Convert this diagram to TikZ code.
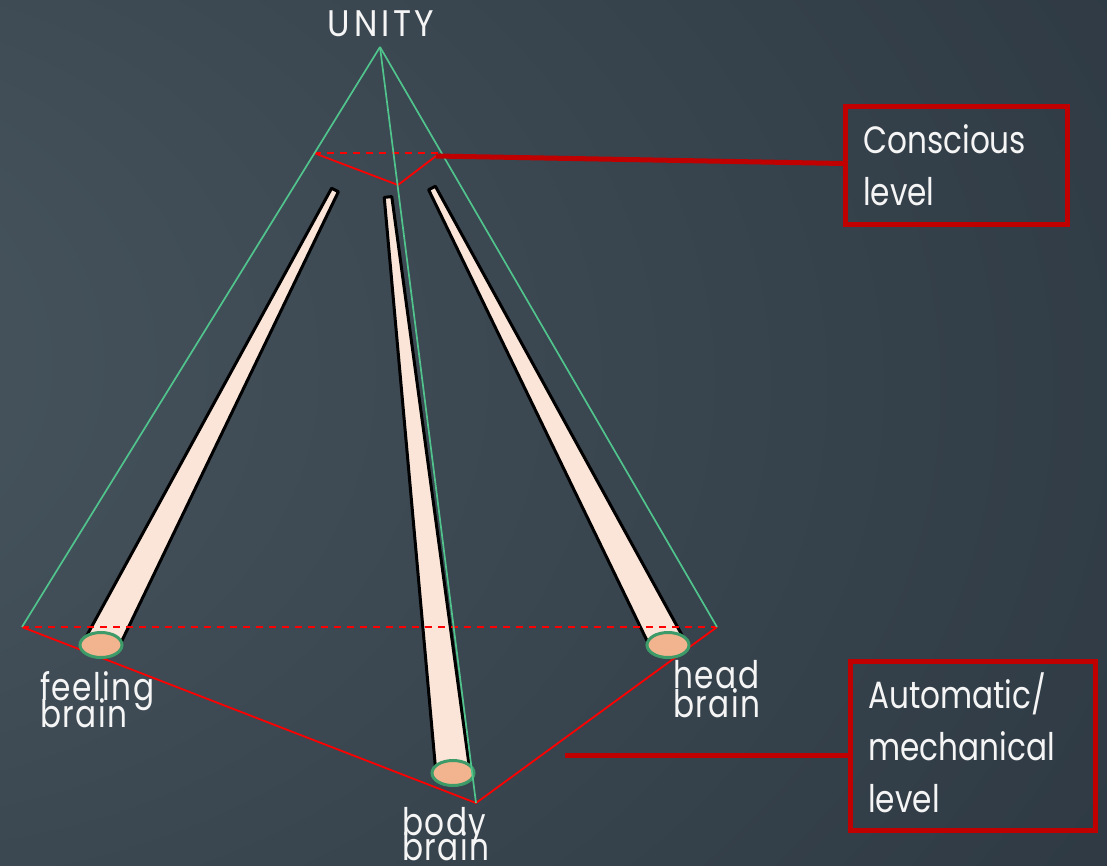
\documentclass[tikz,border=0pt]{standalone}
\usepackage{fontspec}
\setmainfont{Poppins}[FakeStretch=0.82]
\newfontfamily\lblfont{Poppins}[FakeStretch=0.82, LetterSpace=4]
\newfontfamily\unityfont{Poppins}[FakeStretch=0.9, LetterSpace=10]
\usetikzlibrary{calc,shapes.geometric}
\definecolor{bgL}{RGB}{76,90,100}
\definecolor{bgM}{RGB}{52,64,74}
\definecolor{bgR}{RGB}{30,38,47}
\definecolor{greenl}{RGB}{80,196,140}
\definecolor{redl}{RGB}{255,0,0}
\definecolor{darkred}{RGB}{192,0,0}
\definecolor{tubefill}{RGB}{251,229,216}
\definecolor{endfill}{RGB}{242,180,142}
\definecolor{endline}{RGB}{60,155,105}
\definecolor{txt}{RGB}{245,245,245}
\pgfdeclareradialshading{bgshade}{\pgfpoint{-45bp}{5bp}}{color(0bp)=(bgL); color(40bp)=(bgM); color(85bp)=(bgR)}
\tikzset{
  guide/.style={draw=greenl, line width=1.7pt},
  redsolid/.style={draw=redl, line width=1.8pt},
  reddash/.style={draw=redl, line width=1.8pt, dash pattern=on 7pt off 6pt},
  tube/.style={fill=tubefill, draw=black, line width=3pt, line join=round},
  tubeend/.style={ellipse, fill=endfill, draw=endline, line width=3pt, minimum width=42pt, minimum height=25pt, inner sep=0pt},
  levelbox/.style={draw=darkred, line width=5pt, inner sep=0pt},
  link/.style={draw=darkred, line width=5pt},
  boxtxt/.style={text=txt, inner sep=0pt, anchor=base west, font=\fontsize{38}{30}\selectfont},
  lbl/.style={text=txt, inner sep=0pt, anchor=base west, font=\lblfont\fontsize{38}{27}\selectfont},
}
\newcommand{\drawtube}[4]{%
  \path[tube] ($(#1)!#3!90:(#2)$) -- ($(#2)!#4!-90:(#1)$) -- ($(#2)!#4!90:(#1)$) -- ($(#1)!#3!-90:(#2)$) -- cycle;}
\begin{document}
\begin{tikzpicture}[x=1pt,y=-1pt]
\useasboundingbox (0,0) rectangle (1107,865);
\shade[shading=bgshade] (0,0) rectangle (1107,865);
% key points
\coordinate (A) at (380,47);
\coordinate (L) at (22,627);
\coordinate (R) at (717,627);
\coordinate (F) at (476,803);
\coordinate (cl) at (314,153);
\coordinate (cr) at (442,153);
\coordinate (cb) at (398,185);
\coordinate (cj) at (436,156);
\coordinate (aj) at (565,755);
% tube axes
\coordinate (t1) at (335,190); \coordinate (b1) at (101,645);
\coordinate (t2) at (388,197); \coordinate (b2) at (453,773);
\coordinate (t3) at (432,188); \coordinate (b3) at (668,645);
% tubes
\drawtube{t1}{b1}{3.8pt}{17pt}
\drawtube{t2}{b2}{3.8pt}{17pt}
\drawtube{t3}{b3}{3.8pt}{17pt}
% red levels
\draw[reddash] (L) -- (R);
\draw[redsolid, line join=round] (L) -- (F) -- (R);
\draw[reddash] (cl) -- (cr);
\draw[redsolid, line join=round] (cl) -- (cb) -- (cj);
% tube ends
\node[tubeend] (e1) at (b1) {};
\node[tubeend] (e2) at (b2) {};
\node[tubeend] (e3) at (b3) {};
% green pyramid
\draw[guide] (A) -- (L);
\draw[guide] (A) -- (R);
\draw[guide] (A) -- (F);
% boxes
\node[levelbox, minimum width=222pt, minimum height=118pt] (cbox) at (956.5,165.5) {};
\node[levelbox, minimum width=245pt, minimum height=169pt] (abox) at (973,746) {};
\draw[link] (cj) -- (cbox.west |- 0,163.5);
\draw[link] (aj) -- (abox.west |- aj);
% texts
\node[text=txt, inner sep=0pt, anchor=base, font=\unityfont\fontsize{37}{30}\selectfont] (unity) at (381,36) {UNITY};
\node[lbl] (fb1) at (40,700) {feeling};
\node[lbl] (fb2) at (40,727) {brain};
\node[lbl] (hb1) at (673,688) {head};
\node[lbl] (hb2) at (673,717) {brain};
\node[lbl] (bb1) at (402,835) {body};
\node[lbl] (bb2) at (402,860) {brain};
\node[boxtxt] (ct1) at (863,153) {Conscious};
\node[boxtxt] (ct2) at (863,205) {level};
\node[boxtxt] (at1) at (868,708) {Automatic/};
\node[boxtxt] (at2) at (868,760) {mechanical};
\node[boxtxt] (at3) at (868,812) {level};
\end{tikzpicture}
\end{document}
